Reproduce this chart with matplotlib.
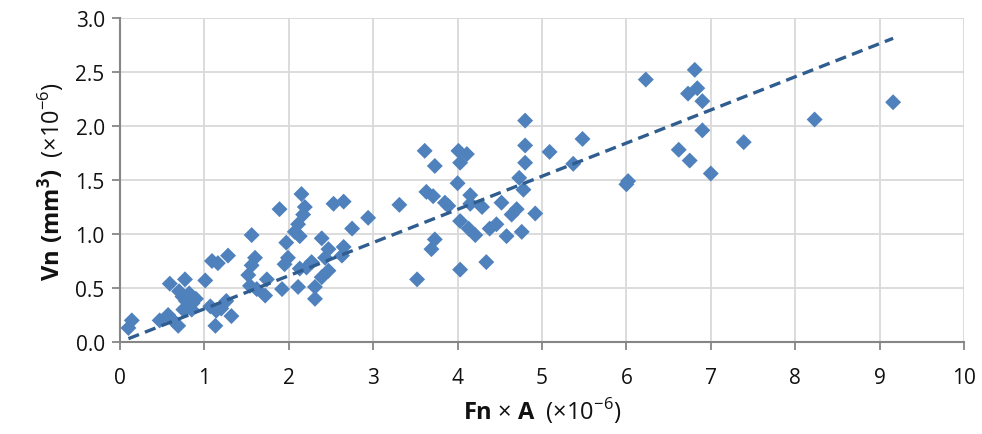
import numpy as np
import matplotlib
matplotlib.use("Agg")
import matplotlib.pyplot as plt

plt.rcParams['font.family'] = ['Open Sans', 'DejaVu Sans']
plt.rcParams['mathtext.fontset'] = 'custom'
plt.rcParams['mathtext.rm'] = 'Open Sans'
plt.rcParams['mathtext.bf'] = 'Open Sans:bold'

# Fn x A (x1e-6)
fn_a = [0.14, 0.10, 0.47, 0.57, 0.63, 0.69, 0.59, 0.77, 0.70, 0.74, 0.78, 0.82, 0.86, 0.80,
        0.90, 0.75, 0.85, 1.01, 1.07, 1.14, 1.13, 1.20, 1.26, 1.32, 1.09, 1.16, 1.28,
        2.15, 2.19, 2.17, 1.89, 2.53, 2.65, 2.94, 2.75, 2.11, 2.07, 2.13, 1.56, 1.97, 2.39,
        2.47, 2.43, 2.65, 2.63, 1.60, 1.56, 1.99, 1.95, 2.13, 2.21, 2.27, 2.47, 2.39, 1.54,
        1.62, 1.74, 1.72, 1.92, 2.11, 2.31, 2.31, 1.52,
        3.61, 3.73, 4.01, 4.11, 4.03, 4.80, 5.09, 4.80, 4.73, 4.78, 4.00, 3.31, 3.63, 3.71,
        3.85, 3.89, 4.15, 4.15, 4.29, 4.52, 4.70, 4.64, 4.92, 4.03, 4.13, 4.21, 4.38, 4.46,
        4.58, 4.76, 3.73, 3.69, 4.34, 4.03, 3.52, 4.80,
        5.48, 5.37, 6.00, 6.02, 6.23, 6.81, 6.73, 6.84, 6.90, 6.90, 6.62, 6.75, 7.00, 7.39,
        8.23, 9.16]
# Vn (mm^3) (x1e-6)
vn = [0.20, 0.13, 0.20, 0.25, 0.20, 0.15, 0.54, 0.58, 0.47, 0.42, 0.38, 0.45, 0.36, 0.32,
      0.40, 0.30, 0.30, 0.57, 0.33, 0.29, 0.15, 0.31, 0.38, 0.24, 0.75, 0.73, 0.80,
      1.37, 1.25, 1.18, 1.23, 1.28, 1.30, 1.15, 1.05, 1.09, 1.02, 0.98, 0.99, 0.92, 0.96,
      0.86, 0.78, 0.88, 0.80, 0.78, 0.71, 0.78, 0.72, 0.68, 0.69, 0.74, 0.66, 0.60, 0.52,
      0.49, 0.58, 0.43, 0.49, 0.51, 0.51, 0.40, 0.62,
      1.77, 1.63, 1.77, 1.74, 1.66, 1.82, 1.76, 1.66, 1.52, 1.41, 1.47, 1.27, 1.39, 1.35,
      1.29, 1.26, 1.36, 1.28, 1.25, 1.29, 1.23, 1.18, 1.19, 1.12, 1.05, 0.99, 1.05, 1.09,
      0.98, 1.02, 0.95, 0.86, 0.74, 0.67, 0.58, 2.05,
      1.88, 1.65, 1.46, 1.49, 2.43, 2.52, 2.30, 2.35, 2.23, 1.96, 1.78, 1.68, 1.56, 1.85,
      2.06, 2.22]

x_ticks = [0, 1, 2, 3, 4, 5, 6, 7, 8, 9, 10]
y_ticks = [0.0, 0.5, 1.0, 1.5, 2.0, 2.5, 3.0]

x = np.array(fn_a)
y = np.array(vn)

fig = plt.figure(figsize=(9.82, 4.35), dpi=100)
ax = fig.add_axes([120/982, 1-343/435, (964-120)/982, (343-19)/435])

ax.scatter(x, y, marker='D', s=66, color='#4F81BD', edgecolors='none', zorder=3)

# linear trendline with zero intercept
slope = np.sum(x*y) / np.sum(x*x)
xl = np.array([x.min(), x.max()])
ax.plot(xl, slope*xl, linestyle=(0, (3.4, 1.9)), color='#2F5D8F', lw=2.4, zorder=4)

ax.set_xlim(0, 10)
ax.set_ylim(0, 3.0)
ax.set_xticks(x_ticks)
ax.set_yticks(y_ticks)
ax.set_xticklabels([str(t) for t in x_ticks])
ax.set_yticklabels([f"{t:.1f}" for t in y_ticks])
ax.grid(True, color='#D9D9D9', lw=1.3, zorder=0)
ax.set_axisbelow(True)
for s in ['top', 'right']:
    ax.spines[s].set_visible(False)
for s in ['left', 'bottom']:
    ax.spines[s].set_color('#868686')
    ax.spines[s].set_linewidth(1.5)
ax.tick_params(axis='both', colors='#868686', labelcolor='#111111', labelsize=15,
               length=6, width=1.3, direction='out')
ax.tick_params(axis='x', pad=12)
ax.tick_params(axis='y', pad=5)

ax.set_xlabel(r"$\mathbf{Fn}$ $\times$ $\mathbf{A}$  (×10$^{-6}$)", fontsize=17, color='#111111', labelpad=5)
ax.set_ylabel(r"$\mathbf{Vn\ (mm^3)}$  (×10$^{-6}$)", fontsize=17, color='#111111', labelpad=7)

fig.savefig("out.png", dpi=100)
